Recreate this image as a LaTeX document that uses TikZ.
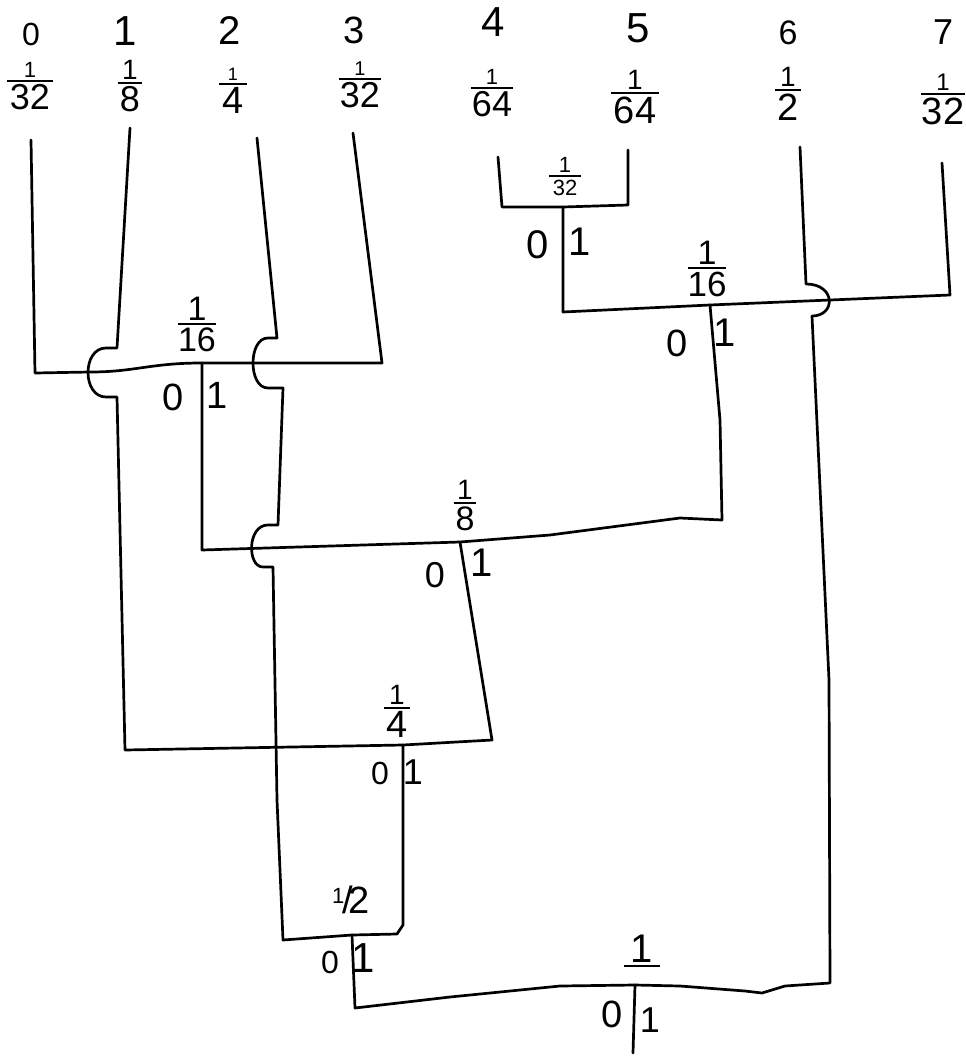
\documentclass[tikz,border=0pt]{standalone}
\usepackage{amsmath}
\usepackage{fontspec}
\setmainfont{Liberation Sans}
% hand fraction: #1 num size, #2 den size, #3 num, #4 den, #5 padding
\newcommand\hf[5]{$\genfrac{}{}{2.3pt}{1}{\mbox{\fontsize{#1}{#1}\selectfont\kern#5pt#3\kern#5pt}}{\mbox{\fontsize{#2}{#2}\selectfont\kern#5pt#4\kern#5pt}}$}
\newcommand\fs[1]{\fontsize{#1}{#1}\selectfont}
\begin{document}
\begin{tikzpicture}[x=1pt,y=-1pt,
  lbl/.style={inner sep=0pt},
  frc/.style={inner sep=0pt,anchor=base,font=\fs{30}},
  wire/.style={line width=2.7pt,line join=round,line cap=round}]
\fill[white] (0,0) rectangle (966,1057);
\useasboundingbox (0,0) rectangle (966,1057);

% ---- leaf symbols
\node[lbl,font=\fs{32}] (s0) at (31,34) {0};
\node[lbl,font=\fs{42}] (s1) at (125,31) {1};
\node[lbl,font=\fs{40}] (s2) at (230,31) {2};
\node[lbl,font=\fs{38}] (s3) at (354,30) {3};
\node[lbl,font=\fs{42}] (s4) at (493,22) {4};
\node[lbl,font=\fs{42}] (s5) at (638,28) {5};
\node[lbl,font=\fs{34}] (s6) at (788,33) {6};
\node[lbl,font=\fs{36}] (s7) at (943,32) {7};

% ---- leaf weights (base = bar + 7.5)
\node[frc] (w0) at (30,87.5) {\hf{22}{36}{1}{32}{3}};
\node[frc] (w1) at (130,89.5) {\hf{28}{36}{1}{8}{2}};
\node[frc] (w2) at (233,90.5) {\hf{18}{38}{1}{4}{3}};
\node[frc] (w3) at (360,85.5) {\hf{20}{36}{1}{32}{1}};
\node[frc] (w4) at (492,94.5) {\hf{22}{36}{1}{64}{1}};
\node[frc] (w5) at (635,99.5) {\hf{28}{38}{1}{64}{3}};
\node[frc] (w6) at (788,96.5) {\hf{28}{38}{1}{2}{2}};
\node[frc] (w7) at (943,100.5) {\hf{24}{38}{1}{32}{1}};

% ---- internal weights
\node[frc] (n16L) at (197,330.5) {\hf{34}{34}{1}{16}{0}};
\node[frc] (n32)  at (565,182.5) {\hf{22}{22}{1}{32}{4}};
\node[frc] (n16R) at (707,274.5) {\hf{34}{35}{1}{16}{0}};
\node[frc] (n8)   at (465,509.5) {\hf{28}{34}{1}{8}{2}};
\node[frc] (n4)   at (397,714.5) {\hf{28}{38}{1}{4}{2}};
\node[lbl,font=\fs{38}] (n2) at (351,900) {\raisebox{10pt}{\fs{22}1}\kern-2pt/\kern-4pt2};
\node[frc] (nr)   at (642,972.5) {\hf{40}{1}{1}{}{7}};

% ---- branch labels
\node[lbl,font=\fs{38}] (b16L0) at (173,397) {0};
\node[lbl,font=\fs{38}] (b16L1) at (217,395) {1};
\node[lbl,font=\fs{40}] (b32a)  at (538,245) {0};
\node[lbl,font=\fs{40}] (b32b)  at (580,242) {1};
\node[lbl,font=\fs{38}] (b16R0) at (677,343) {0};
\node[lbl,font=\fs{40}] (b16R1) at (725,333) {1};
\node[lbl,font=\fs{36}] (b80)   at (435,575) {0};
\node[lbl,font=\fs{40}] (b81)   at (482,563) {1};
\node[lbl,font=\fs{32}] (b40)   at (380,773) {0};
\node[lbl,font=\fs{36}] (b41)   at (413,772) {1};
\node[lbl,font=\fs{32}] (b20)   at (330,962) {0};
\node[lbl,font=\fs{42}] (b21)   at (363,958) {1};
\node[lbl,font=\fs{38}] (br0)   at (612,1014) {0};
\node[lbl,font=\fs{36}] (br1)   at (650,1020) {1};

% ---- wire tops
\coordinate (t0) at (31,140);
\coordinate (t1) at (130,128);
\coordinate (t2) at (257,138);
\coordinate (t3) at (353,133);
\coordinate (t4) at (498,157);
\coordinate (t5) at (628,150);
\coordinate (t6) at (800,147);
\coordinate (t7) at (942,163);

% ---- junctions and corners
\coordinate (a0) at (35,373);
\coordinate (a3) at (382,363);
\coordinate (j16L) at (202,363);
\coordinate (c45L) at (502,207);
\coordinate (j32) at (563,207);
\coordinate (c45R) at (628,205);
\coordinate (c32) at (563,312);
\coordinate (j16R) at (710,305);
\coordinate (c7) at (950,295);
\coordinate (c16L) at (202,550);
\coordinate (j8) at (460,542);
\coordinate (c16R) at (722,520);
\coordinate (c1) at (125,750);
\coordinate (j4) at (403,745);
\coordinate (c8) at (492,740);
\coordinate (c2) at (283,940);
\coordinate (j2) at (352,935);
\coordinate (c4) at (397,934);
\coordinate (c2b) at (355,1008);
\coordinate (jr) at (635,985);
\coordinate (c6) at (830,983);
\coordinate (rb) at (633,1053);

% ---- 1/16 (0,3)
\draw[wire] (t0) -- (a0) -- (90,372) .. controls (135,372) and (150,363) .. (j16L) -- (a3) -- (t3);
% ---- 1/32 (4,5)
\draw[wire] (t4) -- (c45L) -- (j32) -- (c45R) -- (t5);
% ---- 1/16 (45,7)
\draw[wire] (j32) -- (c32) -- (j16R) -- (c7) -- (t7);
% ---- 1/8
\draw[wire] (j16L) -- (c16L) -- (j8) -- (550,535) -- (680,518) -- (c16R) -- (720,420) -- (j16R);
% ---- leaf 1 down to 1/4
\draw[wire] (t1) -- (117,348) -- (106,348) .. controls (82,348) and (82,397) .. (106,397) -- (117,397) -- (c1) -- (j4) -- (c8) -- (j8);
% ---- leaf 2 down to 1/2
\draw[wire] (t2) -- (277,338) -- (268,338) .. controls (248,338) and (248,388) .. (268,388) -- (283,388)
  -- (278,525) -- (268,525) .. controls (247,525) and (247,567) .. (263,567) -- (273,567)
  -- (277,800) -- (c2) -- (j2) -- (c4) -- (403,925) -- (j4);
% ---- root
\draw[wire] (j2) -- (c2b) -- (450,997) -- (560,986) -- (jr) -- (680,986) -- (745,991) -- (762,993) -- (785,986) -- (c6)
  -- (829,680) -- (812,316) .. controls (836,316) and (836,284) .. (806,284) -- (t6);
\draw[wire] (jr) -- (rb);
\end{tikzpicture}
\end{document}
